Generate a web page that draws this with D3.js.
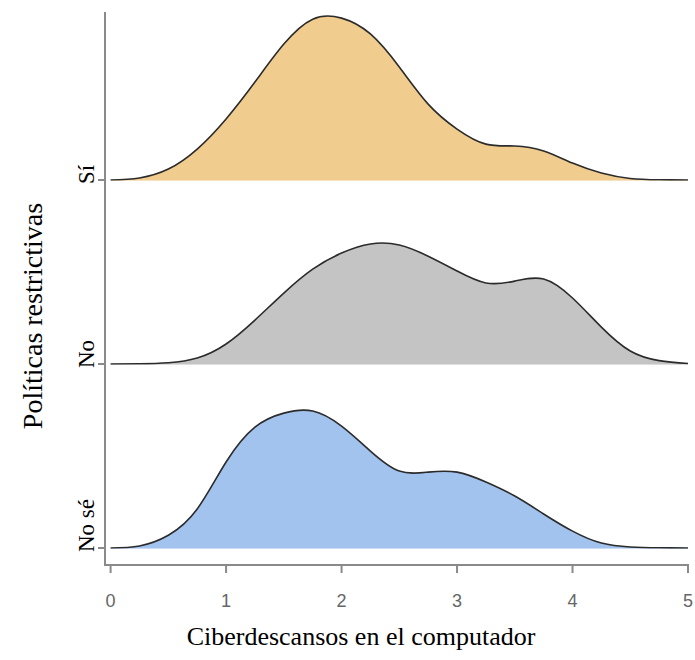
<!DOCTYPE html>
<html>
<head>
<meta charset="utf-8">
<script src="https://cdn.jsdelivr.net/npm/d3@7"></script>
<style>
  body { margin: 0; background: #fff; }
</style>
</head>
<body>
<div id="chart"></div>
<script>
var xGrid = [0, 0.25, 0.5, 0.75, 1, 1.25, 1.5, 1.75, 2, 2.25, 2.5, 2.75, 3, 3.25, 3.5, 3.75, 4, 4.25, 4.5, 4.75, 5];

var categories = ["Sí", "No", "No sé"];

var densSi   = [0, .008, .042, .119, .235, .377, .523, .619, .623, .562, .435, .292, .196, .138, .131, .112, .065, .027, .006, .001, 0];
var densNo   = [0, .001, .005, .023, .077, .169, .273, .365, .427, .462, .458, .415, .358, .312, .319, .327, .254, .142, .050, .013, .002];
var densNoSe = [0, .008, .049, .150, .331, .465, .519, .527, .469, .373, .296, .292, .292, .254, .200, .131, .065, .019, .004, .001, 0];

var xTicks = [0, 1, 2, 3, 4, 5];

var series = [
    { cat: "Sí", dens: densSi, fill: "#F0CC8E" },
    { cat: "No", dens: densNo, fill: "#C4C4C4" },
    { cat: "No sé", dens: densNoSe, fill: "#A3C3EF" }
];

var width = 695,
    height = 660;

var svg = d3.select("#chart").append("svg")
    .attr("width", width)
    .attr("height", height);

var x = d3.scaleLinear().domain([0, 5]).range([110.6, 688]);
var yCat = d3.scalePoint().domain(categories).range([180, 548]);
var h = d3.scaleLinear().domain([0, 0.635]).range([0, 165]);

var serif = "'Liberation Serif', 'Times New Roman', serif";
var sans = "'Liberation Sans', Arial, sans-serif";

// ridges
series.forEach(function (s) {
    var base = yCat(s.cat);
    var pts = xGrid.map(function (v, i) { return [v, s.dens[i]]; });

    var area = d3.area()
        .x(function (d) { return x(d[0]); })
        .y0(base + 0.8)
        .y1(function (d) { return base - h(d[1]); })
        .curve(d3.curveNatural);

    var line = d3.line()
        .x(function (d) { return x(d[0]); })
        .y(function (d) { return base - h(d[1]); })
        .curve(d3.curveNatural);

    // keep the spline from dipping below the baseline
    var clip = svg.append("clipPath").attr("id", "clip-" + categories.indexOf(s.cat));
    clip.append("rect")
        .attr("x", 0).attr("y", 0)
        .attr("width", width).attr("height", base + 0.8);

    svg.append("path")
        .attr("d", area(pts))
        .attr("clip-path", "url(#clip-" + categories.indexOf(s.cat) + ")")
        .style("fill", s.fill)
        .style("stroke", "none");

    svg.append("path")
        .attr("d", line(pts))
        .attr("clip-path", "url(#clip-" + categories.indexOf(s.cat) + ")")
        .style("fill", "none")
        .style("stroke", "#2b2b2b")
        .style("stroke-width", 1.6);
});

// axes
var axisColor = "#8a8a8a";
svg.append("line")
    .attr("x1", 105).attr("x2", 105)
    .attr("y1", 12).attr("y2", 566)
    .style("stroke", axisColor).style("stroke-width", 2);
svg.append("line")
    .attr("x1", 104).attr("x2", 689)
    .attr("y1", 565).attr("y2", 565)
    .style("stroke", axisColor).style("stroke-width", 2);

svg.selectAll(".xtick")
    .data(xTicks).enter().append("line")
    .attr("class", "xtick")
    .attr("x1", function (d) { return x(d); })
    .attr("x2", function (d) { return x(d); })
    .attr("y1", 565).attr("y2", 573)
    .style("stroke", axisColor).style("stroke-width", 2);

svg.selectAll(".xlab")
    .data(xTicks).enter().append("text")
    .attr("class", "xlab")
    .attr("x", function (d) { return x(d); })
    .attr("y", 607)
    .attr("text-anchor", "middle")
    .style("font-family", sans)
    .style("font-size", "18px")
    .style("fill", "#666")
    .text(function (d) { return d; });

svg.selectAll(".ytick")
    .data(categories).enter().append("line")
    .attr("class", "ytick")
    .attr("x1", 98).attr("x2", 105)
    .attr("y1", function (d) { return yCat(d); })
    .attr("y2", function (d) { return yCat(d); })
    .style("stroke", axisColor).style("stroke-width", 2);

svg.selectAll(".ylab")
    .data(categories).enter().append("text")
    .attr("class", "ylab")
    .attr("transform", function (d) { return "translate(94," + (yCat(d) + 4) + ") rotate(-90)"; })
    .attr("text-anchor", "start")
    .style("font-family", serif)
    .style("font-size", "23px")
    .style("fill", "#000")
    .text(function (d) { return d; });

svg.append("text")
    .attr("transform", "translate(42,316) rotate(-90)")
    .attr("text-anchor", "middle")
    .style("font-family", serif)
    .style("font-size", "28px")
    .text("Políticas restrictivas");

svg.append("text")
    .attr("x", 361)
    .attr("y", 645)
    .attr("text-anchor", "middle")
    .style("font-family", serif)
    .style("font-size", "26px")
    .text("Ciberdescansos en el computador");
</script>
</body>
</html>
